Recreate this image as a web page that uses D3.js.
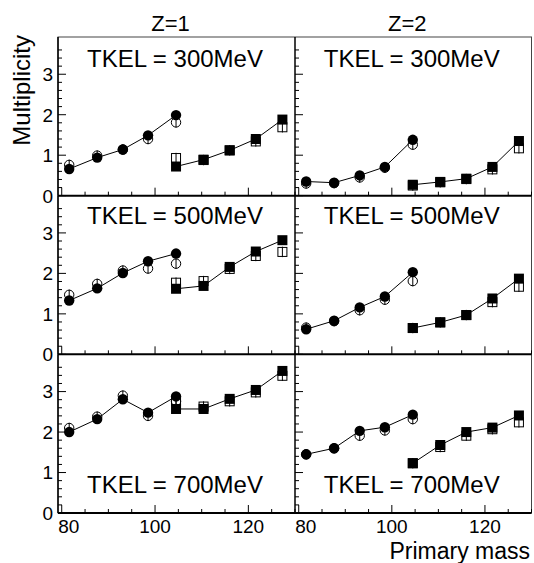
<!DOCTYPE html>
<html lang="en">
<head>
    <meta charset="utf-8">
    <title>Multiplicity vs primary mass</title>
    <script src="https://cdn.jsdelivr.net/npm/d3@7"></script>
    <style>
        body { margin: 0; background: #fff; }
        text { font-family: "Liberation Sans", Arial, Helvetica, sans-serif; fill: #000; }
    </style>
</head>
<body>
<script>
    // masses of the two fragment groups
    var circleMass = [81.6, 87.6, 93.1, 98.5, 104.5];
    var squareMass = [104.5, 110.4, 116.0, 121.6, 127.3];

    var zLabels = ["Z=1", "Z=2"];
    var tkelLabels = ["TKEL = 300MeV", "TKEL = 500MeV", "TKEL = 700MeV"];
    var yTickLabels = [0, 1, 2, 3];
    var xTickLabels = [80, 100, 120];

    // rows: 300, 500, 700 MeV
    var z1CircleFilled = [[0.66, 0.94, 1.14, 1.49, 1.99], [1.33, 1.63, 2.01, 2.30, 2.49], [2.00, 2.32, 2.81, 2.48, 2.88]];
    var z1CircleOpen   = [[0.76, 0.99, 1.14, 1.40, 1.81], [1.47, 1.74, 2.07, 2.12, 2.24], [2.10, 2.38, 2.90, 2.40, 2.76]];
    var z1SquareFilled = [[0.72, 0.89, 1.12, 1.40, 1.88], [1.62, 1.69, 2.16, 2.54, 2.82], [2.57, 2.57, 2.82, 3.04, 3.51]];
    var z1SquareOpen   = [[0.93, 0.88, 1.12, 1.34, 1.69], [1.77, 1.81, 2.11, 2.43, 2.53], [2.76, 2.63, 2.76, 2.98, 3.39]];
    var z2CircleFilled = [[0.35, 0.32, 0.50, 0.71, 1.38], [0.62, 0.83, 1.16, 1.43, 2.03], [1.45, 1.60, 2.03, 2.12, 2.43]];
    var z2CircleOpen   = [[0.30, 0.31, 0.45, 0.69, 1.26], [0.66, 0.82, 1.09, 1.35, 1.81], [1.45, 1.60, 1.91, 2.04, 2.32]];
    var z2SquareFilled = [[0.27, 0.34, 0.42, 0.71, 1.35], [0.65, 0.79, 0.97, 1.38, 1.87], [1.23, 1.68, 2.00, 2.11, 2.41]];
    var z2SquareOpen   = [[0.25, 0.33, 0.41, 0.65, 1.17], [0.65, 0.79, 0.97, 1.29, 1.67], [1.23, 1.63, 1.91, 2.07, 2.24]];

    var columns = [
        {cf: z1CircleFilled, co: z1CircleOpen, sf: z1SquareFilled, so: z1SquareOpen},
        {cf: z2CircleFilled, co: z2CircleOpen, sf: z2SquareFilled, so: z2SquareOpen}
    ];

    //canvas
    var width = 534, height = 563;
    var colX = [58, 295, 531.5];
    var top0 = 37, panelH = 158.67;
    var r = 5.2, sq = 10;

    var svg = d3.select("body").append("svg")
            .attr("width", width)
            .attr("height", height);

    var x0 = d3.scaleLinear().domain([79.2, 130]);
    var y0 = d3.scaleLinear().domain([0, 3.92]);

    // outer frame
    svg.append("rect")
            .attr("x", colX[0]).attr("y", top0)
            .attr("width", colX[2] - colX[0]).attr("height", panelH * 3)
            .attr("fill", "none").attr("stroke", "#444").attr("stroke-width", 1);

    for (var c = 0; c < 2; c++) {
        for (var row = 0; row < 3; row++) {
            drawPanel(c, row);
        }
        svg.append("text")
                .attr("x", (colX[c] + colX[c + 1]) / 2 - 6)
                .attr("y", 31)
                .attr("text-anchor", "middle")
                .style("font-size", "22px")
                .text(zLabels[c]);
    }

    function drawPanel(c, row) {
        var left = colX[c], right = colX[c + 1];
        var top = top0 + row * panelH, bottom = top + panelH;
        var x = x0.copy().range([left, right]);
        var y = y0.copy().range([bottom, top]);
        var g = svg.append("g");
        var d = columns[c];

        //x axis (ticks inward)
        g.append("line")
                .attr("x1", left).attr("x2", right)
                .attr("y1", bottom).attr("y2", bottom)
                .attr("stroke", "#000").attr("stroke-width", 2);
        g.selectAll(".xt").data(d3.range(80, 130.1, 5)).enter()
                .append("line")
                .attr("x1", function (v) { return x(v); })
                .attr("x2", function (v) { return x(v); })
                .attr("y1", bottom)
                .attr("y2", function (v) { return bottom - (v % 20 === 0 ? 8 : 4); })
                .attr("stroke", "#000").attr("stroke-width", 1);

        //y axis
        g.append("line")
                .attr("x1", left).attr("x2", left)
                .attr("y1", top).attr("y2", bottom)
                .attr("stroke", "#000").attr("stroke-width", 1.5);
        g.selectAll(".yt").data(d3.range(0, 19).map(function (i) { return i * 0.2; })).enter()
                .append("line")
                .attr("x1", left)
                .attr("x2", function (v, i) { return left + (i % 5 === 0 ? 8 : 4); })
                .attr("y1", function (v) { return y(v); })
                .attr("y2", function (v) { return y(v); })
                .attr("stroke", "#000").attr("stroke-width", 1);

        if (c === 0) {
            g.selectAll(".yl").data(yTickLabels).enter()
                    .append("text")
                    .attr("x", 53)
                    .attr("y", function (v) { return y(v); })
                    .attr("dy", "0.36em")
                    .attr("text-anchor", "end")
                    .style("font-size", "19px")
                    .text(function (v) { return v; });
        }
        if (row === 2) {
            g.selectAll(".xl").data(xTickLabels).enter()
                    .append("text")
                    .attr("x", function (v) { return x(v) + (v === 80 ? 7 : 0); })
                    .attr("y", bottom + 20)
                    .attr("text-anchor", "middle")
                    .style("font-size", "19px")
                    .text(function (v) { return v; });
        }

        //panel label
        g.append("text")
                .attr("x", (left + right) / 2 - 1.5)
                .attr("y", row === 2 ? bottom - 20 : top + (row === 0 ? 29.7 : 28))
                .attr("text-anchor", "middle")
                .style("font-size", "24px")
                .text(tkelLabels[row]);

        drawSeries(g, x, y, circleMass, d.co[row], d.cf[row], "circle");
        drawSeries(g, x, y, squareMass, d.so[row], d.sf[row], "square");
    }

    function drawSeries(g, x, y, mass, openVals, filledVals, shape) {
        var openPts = mass.map(function (m, i) { return [x(m), y(openVals[i])]; });
        var fillPts = mass.map(function (m, i) { return [x(m), y(filledVals[i])]; });

        //open markers with error bar stub
        openPts.forEach(function (p) {
            if (shape === "circle") {
                g.append("circle").attr("cx", p[0]).attr("cy", p[1]).attr("r", r - 0.5)
                        .attr("fill", "none").attr("stroke", "#000").attr("stroke-width", 1);
            } else {
                g.append("rect").attr("x", p[0] - sq / 2 + 0.5).attr("y", p[1] - sq / 2 + 0.5)
                        .attr("width", sq - 1).attr("height", sq - 1)
                        .attr("fill", "none").attr("stroke", "#000").attr("stroke-width", 1);
            }
            g.append("line").attr("x1", p[0]).attr("x2", p[0])
                    .attr("y1", p[1] - r).attr("y2", p[1] + r)
                    .attr("stroke", "#000").attr("stroke-width", 1);
        });

        //connecting line
        g.append("path")
                .attr("d", d3.line()(fillPts))
                .attr("fill", "none").attr("stroke", "#000").attr("stroke-width", 1);

        fillPts.forEach(function (p) {
            if (shape === "circle") {
                g.append("circle").attr("cx", p[0]).attr("cy", p[1]).attr("r", r).attr("fill", "#000");
            } else {
                g.append("rect").attr("x", p[0] - sq / 2).attr("y", p[1] - sq / 2)
                        .attr("width", sq).attr("height", sq).attr("fill", "#000");
            }
        });
    }

    //axis titles
    svg.append("text")
            .attr("transform", "translate(30,35) rotate(-90)")
            .attr("text-anchor", "end")
            .style("font-size", "24px")
            .text("Multiplicity");
    svg.append("text")
            .attr("x", 530).attr("y", 559)
            .attr("text-anchor", "end")
            .style("font-size", "23px")
            .text("Primary mass");
</script>
</body>
</html>
